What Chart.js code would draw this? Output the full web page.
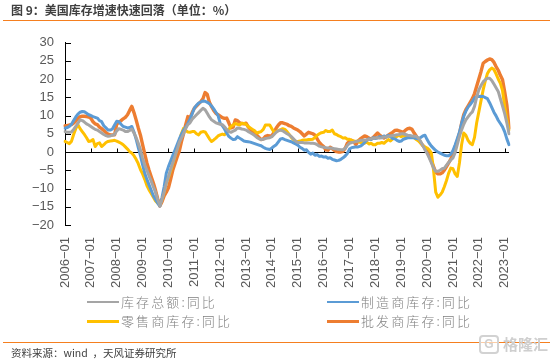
<!DOCTYPE html>
<html>
<head>
<meta charset="utf-8">
<script src="https://cdn.jsdelivr.net/npm/chart.js@4"></script>
<style>
  html, body { margin: 0; padding: 0; background: #fff; }
  #wrap { position: relative; width: 553px; height: 361px; overflow: hidden; font-family: "Noto Sans CJK SC", sans-serif; }
  canvas { position: absolute; left: 0; top: 0; }
  .title { position: absolute; left: 11px; top: 1px; font-size: 12px; font-weight: 700; color: #404040; line-height: 17px; white-space: nowrap; }
  .rule { position: absolute; left: 3px; width: 547px; height: 1px; background: #f57f1f; }
  .source { position: absolute; left: 11px; top: 345px; font-size: 10.5px; color: #404040; line-height: 15px; white-space: nowrap; }
  .swatch { position: absolute; width: 32px; }
  .leg { position: absolute; font-size: 13px; letter-spacing: 2.1px; color: #808080; line-height: 16px; white-space: nowrap; font-weight: 300; }
  .mark { position: absolute; left: 503px; top: 334px; font-size: 15px; letter-spacing: 0px; color: #cfcfcf; line-height: 20px; font-weight: 700; white-space: nowrap; }
  .logo { position: absolute; left: 479px; top: 335px; width: 16px; height: 15px; border: 2px solid #d2d2d2; border-radius: 4px; color: #cfcfcf; font: 700 12px/15px "Liberation Sans", sans-serif; text-align: center; background: rgba(255,255,255,.6); }
</style>
</head>
<body>
<div id="wrap">
  <canvas id="chart" width="553" height="361"></canvas>
  <div class="title">图 9：美国库存增速快速回落（单位：%）</div>
  <div class="rule" style="top:20px"></div>
  <div class="swatch" style="left:87px;top:301px;height:2px;background:#a5a5a5"></div>
  <div class="leg" style="left:121px;top:294px">库存总额:同比</div>
  <div class="swatch" style="left:327px;top:301px;height:2px;background:#5b9bd5"></div>
  <div class="leg" style="left:361px;top:294px">制造商库存:同比</div>
  <div class="swatch" style="left:87px;top:320px;height:3px;background:#ffc000"></div>
  <div class="leg" style="left:121px;top:313px">零售商库存:同比</div>
  <div class="swatch" style="left:327px;top:320px;height:3px;background:#ed7d31"></div>
  <div class="leg" style="left:361px;top:313px">批发商库存:同比</div>
  <div class="rule" style="top:342px"></div>
  <div class="source">资料来源：wind &nbsp;，天风证券研究所</div>
  <div class="logo">G</div>
  <div class="mark">格隆汇</div>
</div>
<script>
const startYear = 2006;
const yTicks = [30, 25, 20, 15, 10, 5, 0, -5, -10, -15, -20];

const total = [
  5.6,5.4,5.4,5.5,6.2,7.0,7.9,8.8,8.6,8.2,7.7,7.4,
  7.0,6.6,6.2,6.0,5.6,5.2,4.8,4.5,4.3,4.4,4.6,4.8,
  5.8,6.4,6.2,6.0,5.6,5.6,5.9,6.3,5.2,4.0,2.4,0.6,
  -1.6,-3.6,-5.0,-6.6,-8.0,-9.6,-11.0,-13.0,-14.7,-13.0,-11.0,-8.6,
  -6.8,-4.8,-3.0,-1.2,0.6,2.6,3.8,5.0,6.4,7.5,8.0,9.0,
  9.6,10.2,10.8,11.4,12.0,11.6,10.6,9.6,8.8,8.4,8.0,7.8,
  7.6,7.5,6.9,6.2,5.6,5.4,5.7,6.0,6.6,6.5,6.3,6.2,
  6.0,5.6,5.3,4.9,4.5,4.0,3.6,3.4,3.5,3.7,3.8,3.9,
  4.2,4.8,5.4,5.8,6.0,5.8,5.4,5.0,4.7,4.2,3.6,3.0,
  2.6,2.6,2.6,2.5,2.5,2.5,2.4,2.4,2.3,2.0,1.6,1.4,
  1.3,1.2,1.1,1.1,1.0,0.9,0.8,0.7,0.6,0.6,1.0,1.8,
  2.4,2.6,2.7,2.9,3.0,3.2,3.2,3.3,3.3,3.5,3.6,3.8,
  3.8,3.9,3.8,3.9,4.1,4.1,4.3,4.4,4.5,4.6,4.7,4.8,
  5.0,5.0,4.8,4.6,4.5,4.4,4.3,4.3,3.8,2.9,1.8,0.6,
  -0.4,-1.6,-3.0,-4.4,-5.3,-5.3,-5.0,-4.6,-4.4,-3.6,-2.9,-2.2,
  -1.6,-0.2,2.0,4.3,6.0,7.6,8.8,9.6,10.4,11.0,12.5,15.0,
  17.0,18.2,19.2,19.8,20.2,20.2,19.6,18.6,17.6,16.6,14.6,12.6,
  10.5,8.0,5.0
];

const manufacturers = [
  6.5,6.7,7.0,7.6,8.6,9.6,10.4,10.9,11.1,11.0,10.6,10.2,
  10.0,9.7,9.5,9.3,8.6,8.3,7.2,6.6,6.0,6.0,6.3,7.4,
  8.4,8.3,7.6,7.0,6.8,6.6,6.7,7.0,5.5,3.5,1.2,-1.0,
  -3.5,-5.8,-7.5,-9.0,-10.5,-12.0,-13.0,-14.0,-14.8,-12.5,-9.5,-5.8,
  -4.0,-2.5,-1.0,0.5,2.0,3.5,4.8,6.0,6.8,7.8,9.0,10.5,
  12.0,12.8,13.4,13.7,14.0,13.9,13.6,13.2,12.6,11.8,10.9,10.0,
  7.9,7.2,6.3,5.2,4.3,3.8,3.4,3.5,4.2,3.8,3.4,3.0,
  2.9,2.8,2.7,2.5,2.3,2.1,1.9,1.7,1.3,1.0,0.8,0.7,
  1.1,1.6,2.0,2.8,3.6,3.7,3.4,3.2,3.0,2.8,2.5,2.2,
  1.9,1.3,1.0,0.5,0.6,-0.1,-0.6,-0.3,-0.9,-0.7,-1.2,-1.1,
  -1.4,-1.3,-1.7,-1.6,-2.0,-2.2,-2.4,-2.3,-2.0,-1.6,-1.1,-0.4,
  0.8,1.2,1.3,1.4,1.4,1.6,2.0,2.6,3.2,3.6,3.4,3.9,
  3.7,3.9,4.2,4.0,4.4,4.1,4.6,4.2,3.7,3.6,3.2,2.9,
  3.0,3.5,3.7,3.9,3.9,4.0,3.9,3.7,3.6,4.0,4.4,4.6,
  3.4,2.4,1.6,1.0,0.4,0.0,-0.3,-0.6,-0.9,-1.0,-1.0,-0.6,
  0.4,1.9,3.6,5.4,7.8,9.8,11.2,12.3,13.0,13.8,14.8,15.2,
  15.2,15.3,15.2,14.9,14.6,13.5,12.2,10.9,9.9,8.7,7.8,6.9,
  5.5,3.6,2.0
];

const retailers = [
  2.9,2.6,2.3,2.9,4.8,6.4,7.5,6.4,5.6,4.8,3.9,2.9,
  3.0,3.4,1.5,2.3,2.5,1.5,2.0,2.6,2.9,3.0,3.1,3.2,
  3.0,2.7,2.4,2.0,1.4,0.8,0.1,-0.3,-1.0,-2.0,-3.2,-4.8,
  -6.0,-7.5,-9.2,-10.4,-11.4,-12.4,-13.4,-14.0,-14.6,-13.0,-11.0,-8.5,
  -7.0,-5.2,-3.2,-1.2,0.8,2.8,5.0,6.5,5.9,5.5,5.4,5.6,
  5.6,5.0,4.7,5.4,5.6,5.5,4.6,3.6,2.9,3.3,3.8,4.4,
  4.7,4.9,4.7,5.4,6.2,7.0,7.4,7.8,7.6,7.4,7.9,7.8,
  7.6,7.0,6.6,6.2,5.8,5.2,5.4,5.6,6.2,7.4,7.4,7.4,
  6.4,5.4,5.6,5.9,6.1,6.4,6.2,5.6,4.8,4.0,3.4,2.9,
  2.9,3.0,3.2,3.3,3.3,3.4,3.4,3.5,4.0,4.6,5.0,5.3,
  5.4,5.9,5.6,5.6,6.0,5.0,4.8,4.4,4.2,3.8,3.9,3.5,
  3.5,3.2,3.0,2.9,3.0,2.6,2.6,2.4,2.7,2.2,2.4,2.0,
  2.0,2.4,2.4,2.6,2.4,2.9,3.4,3.0,3.6,4.0,4.3,4.6,
  4.2,4.4,4.2,4.1,4.1,4.1,3.9,3.4,3.0,2.4,1.8,1.4,
  1.1,0.6,-0.3,-5.0,-11.0,-12.4,-11.8,-11.0,-9.5,-7.8,-5.8,-4.4,
  -4.6,-6.0,-6.7,-3.0,2.0,5.2,4.6,3.2,2.4,2.0,4.0,8.0,
  11.0,14.0,17.0,19.5,21.5,22.5,23.0,22.6,21.4,20.0,18.8,16.8,
  12.5,9.0,6.0
];

const wholesalers = [
  7.2,7.2,7.4,7.5,7.9,8.5,9.2,9.7,9.8,9.8,9.7,9.6,
  9.2,8.3,7.7,7.5,6.8,6.4,5.9,5.3,4.9,4.7,4.7,4.7,
  7.6,8.2,8.6,9.1,9.5,10.2,11.4,12.5,10.8,8.8,6.6,4.6,
  2.0,-0.5,-3.0,-5.0,-6.8,-8.5,-10.5,-12.8,-14.8,-13.6,-12.0,-11.0,
  -9.8,-7.5,-5.0,-3.2,-1.4,0.2,2.8,5.0,7.5,9.7,9.3,10.8,
  12.0,12.6,13.2,13.8,14.6,16.3,15.8,13.6,12.4,11.4,10.6,10.2,
  9.8,9.4,9.2,9.3,8.0,6.6,6.8,8.8,8.6,8.0,7.8,7.7,
  7.9,6.9,6.2,5.6,5.1,4.6,4.0,3.4,3.6,4.3,4.5,4.4,
  4.5,5.4,6.6,7.4,8.0,8.0,7.8,7.6,7.2,7.0,6.6,6.3,
  6.0,5.6,5.0,4.4,4.9,5.4,5.2,5.0,4.6,3.6,2.6,2.0,
  1.5,0.6,0.5,1.3,0.9,0.4,0.1,0.0,0.0,0.2,1.0,2.4,
  2.9,3.2,2.8,2.0,3.0,3.6,4.0,4.4,4.2,3.8,3.5,4.0,
  4.6,5.2,4.6,4.2,3.8,4.2,4.6,5.0,5.4,5.9,6.0,5.8,
  5.6,5.4,6.0,6.4,6.5,6.2,5.2,4.3,3.4,2.6,1.8,1.1,
  0.2,-1.2,-2.5,-4.0,-5.6,-6.0,-6.0,-5.7,-5.0,-4.0,-3.0,-1.9,
  -0.6,1.4,3.0,5.0,7.8,10.2,11.6,12.6,13.6,14.6,16.0,18.0,
  20.0,22.0,24.3,24.8,25.2,25.5,25.3,24.6,23.4,22.4,21.0,19.8,
  16.5,12.9,6.5
];

// one label per month, yyyy-mm
const months = total.map((v, i) => {
  const y = startYear + Math.floor(i / 12);
  const m = (i % 12) + 1;
  return y + '-' + String(m).padStart(2, '0');
});

// the x axis crosses at zero and its ticks point up, y ticks point right
const crossAxis = {
  id: 'crossAxis',
  beforeDatasetsDraw(chart) {
    const { ctx, scales: { x, y } } = chart;
    const zero = Math.round(y.getPixelForValue(0)) + 0.5;
    ctx.save();
    ctx.strokeStyle = '#000';
    ctx.lineWidth = 1;
    ctx.beginPath();
    ctx.moveTo(x.left, zero);
    ctx.lineTo(x.right, zero);
    months.forEach((m, i) => {
      if (m.endsWith('-01')) {
        const px = Math.round(x.getPixelForValue(i)) + 0.5;
        ctx.moveTo(px, zero);
        ctx.lineTo(px, zero - 4);
      }
    });
    yTicks.forEach(t => {
      const py = Math.round(y.getPixelForValue(t)) + 0.5;
      ctx.moveTo(x.left, py);
      ctx.lineTo(x.left + 6, py);
    });
    ctx.stroke();
    ctx.restore();
  }
};

const lineStyle = { pointRadius: 0, tension: 0, fill: false, borderJoinStyle: 'round', borderCapStyle: 'round' };

new Chart(document.getElementById('chart'), {
  type: 'line',
  plugins: [crossAxis],
  data: {
    labels: months,
    datasets: [
      { label: '库存总额:同比', data: total, borderColor: '#a5a5a5', borderWidth: 3, ...lineStyle },
      { label: '制造商库存:同比', data: manufacturers, borderColor: '#5b9bd5', borderWidth: 3, ...lineStyle },
      { label: '零售商库存:同比', data: retailers, borderColor: '#ffc000', borderWidth: 3, ...lineStyle },
      { label: '批发商库存:同比', data: wholesalers, borderColor: '#ed7d31', borderWidth: 3.4, ...lineStyle },
    ],
  },
  options: {
    responsive: false,
    animation: false,
    layout: { padding: { top: 42.5, right: 44, left: 0, bottom: 0 } },
    plugins: { legend: { display: false }, tooltip: { enabled: false }, title: { display: false } },
    scales: {
      x: {
        type: 'category',
        offset: false,
        grid: { display: false, drawTicks: false },
        border: { display: false },
        afterFit: scale => { scale.height = 136; },
        ticks: {
          autoSkip: false,
          minRotation: 90,
          maxRotation: 90,
          padding: 12,
          color: '#595959',
          font: { family: '"Liberation Sans", Arial, sans-serif', size: 13 },
          callback(value, index) {
            return months[index].endsWith('-01') ? months[index].replace('-', '\u2212') : null;
          },
        },
      },
      y: {
        min: -20,
        max: 30,
        afterFit: scale => { scale.width = 65; },
        grid: { display: false, drawTicks: false },
        border: { color: '#000', width: 1 },
        afterBuildTicks: scale => { scale.ticks = yTicks.map(v => ({ value: v })); },
        ticks: {
          autoSkip: false,
          padding: 11,
          color: '#595959',
          font: { family: '"Liberation Sans", Arial, sans-serif', size: 13 },
          callback: v => String(v).replace('-', '\u2212'),
        },
      },
    },
  },
});
</script>
</body>
</html>
